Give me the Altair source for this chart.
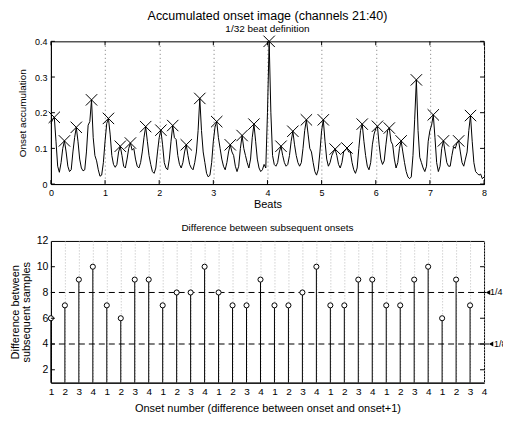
import altair as alt
import pandas as pd

# ---- top panel: accumulated onset curve (1/32 beat samples) ----
curve_vals = [
    0.170, 0.180, 0.187, 0.120, 0.050, 0.033, 0.060, 0.100, 0.121, 0.090,
    0.050, 0.035, 0.040, 0.090, 0.130, 0.159, 0.120, 0.070, 0.045, 0.037,
    0.040, 0.090, 0.165, 0.175, 0.236, 0.130, 0.080, 0.065, 0.040, 0.022,
    0.025, 0.060, 0.120, 0.170, 0.184, 0.140, 0.080, 0.055, 0.047, 0.055,
    0.090, 0.106, 0.080, 0.050, 0.045, 0.070, 0.100, 0.115, 0.095, 0.100,
    0.070, 0.050, 0.045, 0.060, 0.090, 0.130, 0.161, 0.120, 0.080, 0.055,
    0.035, 0.030, 0.045, 0.090, 0.130, 0.151, 0.110, 0.060, 0.045, 0.040,
    0.070, 0.120, 0.164, 0.130, 0.125, 0.080, 0.055, 0.045, 0.060, 0.090,
    0.110, 0.080, 0.055, 0.045, 0.040, 0.060, 0.090, 0.150, 0.240, 0.150,
    0.090, 0.060, 0.030, 0.020, 0.025, 0.060, 0.120, 0.160, 0.175, 0.130,
    0.100, 0.070, 0.050, 0.040, 0.060, 0.090, 0.110, 0.090, 0.080, 0.050,
    0.035, 0.050, 0.100, 0.136, 0.100, 0.080, 0.060, 0.045, 0.070, 0.130,
    0.168, 0.120, 0.070, 0.045, 0.035, 0.040, 0.055, 0.045, 0.200, 0.400,
    0.200, 0.080, 0.055, 0.050, 0.060, 0.090, 0.106, 0.080, 0.060, 0.050,
    0.055, 0.080, 0.120, 0.148, 0.110, 0.080, 0.060, 0.050, 0.060, 0.100,
    0.150, 0.180, 0.140, 0.100, 0.090, 0.060, 0.035, 0.025, 0.040, 0.090,
    0.150, 0.180, 0.120, 0.070, 0.050, 0.060, 0.080, 0.090, 0.098, 0.080,
    0.055, 0.045, 0.060, 0.090, 0.095, 0.101, 0.090, 0.090, 0.060, 0.040,
    0.030, 0.045, 0.100, 0.150, 0.168, 0.120, 0.080, 0.050, 0.040, 0.060,
    0.110, 0.140, 0.155, 0.162, 0.110, 0.070, 0.055, 0.065, 0.110, 0.150,
    0.157, 0.120, 0.110, 0.070, 0.045, 0.060, 0.100, 0.121, 0.090, 0.060,
    0.035, 0.020, 0.015, 0.020, 0.080, 0.180, 0.292, 0.150, 0.075, 0.060,
    0.045, 0.035, 0.050, 0.120, 0.150, 0.165, 0.194, 0.130, 0.060, 0.035,
    0.050, 0.100, 0.121, 0.090, 0.060, 0.050, 0.050, 0.080, 0.105, 0.100,
    0.115, 0.121, 0.090, 0.060, 0.050, 0.070, 0.090, 0.150, 0.192, 0.120,
    0.060, 0.035, 0.030, 0.025, 0.028, 0.015, 0.020,
]
samples_per_beat = 32

# detected onsets (sample index) and their heights
onset_samples = [2, 8, 15, 24, 34, 41, 47, 56, 65, 72, 80, 88, 98, 106, 113, 120,
                 129, 136, 143, 151, 161, 168, 175, 184, 193, 200, 207, 216, 226,
                 232, 241, 248]
onset_vals = [0.187, 0.121, 0.159, 0.236, 0.184, 0.106, 0.115, 0.161, 0.151, 0.164,
              0.110, 0.240, 0.175, 0.110, 0.136, 0.168, 0.400, 0.106, 0.148, 0.180,
              0.180, 0.098, 0.101, 0.168, 0.162, 0.157, 0.121, 0.292, 0.194, 0.121,
              0.121, 0.192]

beat_ticks = [0, 1, 2, 3, 4, 5, 6, 7, 8]
acc_ticks = [0, 0.1, 0.2, 0.3, 0.4]

# ---- bottom panel: difference between subsequent onsets ----
diff_vals = [6, 7, 9, 10, 7, 6, 9, 9, 7, 8, 8, 10, 8, 7, 7, 9,
             7, 7, 8, 10, 7, 7, 9, 9, 7, 7, 9, 10, 6, 9, 7]
onset_number = list(range(1, len(diff_vals) + 1))
onset_ticks = list(range(1, 33))
diff_ticks = [2, 4, 6, 8, 10, 12]
ref_levels = [8, 4]
ref_labels = ["1/4", "1/8"]

W = 434
H1 = 143
H2 = 142
FONT = "Liberation Sans"

curve_df = pd.DataFrame({
    "beat": [i / samples_per_beat for i in range(len(curve_vals))],
    "acc": curve_vals,
})
peak_df = pd.DataFrame({
    "beat": [s / samples_per_beat for s in onset_samples],
    "acc": onset_vals,
})
xtick_df = pd.DataFrame({"beat": beat_ticks})
ytick_df = pd.DataFrame({"acc": acc_ticks})

xs = alt.Scale(domain=[0, 8], nice=False, zero=False)
ys = alt.Scale(domain=[0, 0.4], nice=False)

common = dict(labelOverlap=False, labelFlush=False, labelBound=False, ticks=False)

top_x_axis = alt.Axis(values=beat_ticks, title="Beats", grid=True,
                      gridDash=[1, 3], gridColor="#777777", gridWidth=1,
                      labelFontSize=9, labelPadding=4, titleFontSize=11,
                      titleFontWeight="normal", titlePadding=1, **common)
top_y_axis = alt.Axis(values=acc_ticks, format="~g", title="Onset accumulation",
                      grid=False, labelFontSize=9, labelPadding=4,
                      titleFontSize=10, titleFontWeight="normal", titlePadding=7, **common)

line = alt.Chart(curve_df).mark_line(color="black", strokeWidth=1).encode(
    x=alt.X("beat:Q", scale=xs, axis=top_x_axis),
    y=alt.Y("acc:Q", scale=ys, axis=top_y_axis),
)
peaks = alt.Chart(peak_df).mark_point(
    shape="M -1 -1 L 1 1 M -1 1 L 1 -1", filled=False, color="black",
    strokeWidth=1, size=130, opacity=1,
).encode(x=alt.X("beat:Q", scale=xs, axis=top_x_axis),
         y=alt.Y("acc:Q", scale=ys, axis=top_y_axis))

tick_len = 4
yt_left = alt.Chart(ytick_df).mark_rule(color="black").encode(
    y=alt.Y("acc:Q", scale=ys, axis=top_y_axis), x=alt.value(0), x2=alt.value(tick_len))
yt_right = alt.Chart(ytick_df).mark_rule(color="black").encode(
    y=alt.Y("acc:Q", scale=ys, axis=top_y_axis), x=alt.value(W - tick_len), x2=alt.value(W))
xt_bottom = alt.Chart(xtick_df).mark_rule(color="black").encode(
    x=alt.X("beat:Q", scale=xs, axis=top_x_axis), y=alt.value(H1), y2=alt.value(H1 - tick_len))
xt_top = alt.Chart(xtick_df).mark_rule(color="black").encode(
    x=alt.X("beat:Q", scale=xs, axis=top_x_axis), y=alt.value(0), y2=alt.value(tick_len))

top = alt.layer(line, peaks, yt_left, yt_right, xt_bottom, xt_top).properties(
    width=W, height=H1,
    title=alt.TitleParams(
        text="Accumulated onset image (channels 21:40)",
        subtitle="1/32 beat definition",
        fontSize=12.5, fontWeight="normal", font=FONT, color="black",
        subtitleFontSize=10, subtitleFont=FONT, subtitleColor="black",
        subtitlePadding=1, offset=0, anchor="middle",
    ),
)

diff_df = pd.DataFrame({"n": onset_number, "diff": diff_vals})
ref_df = pd.DataFrame({"level": ref_levels, "label": ref_labels})
ydt_df = pd.DataFrame({"diff": diff_ticks[:-1]})

bxs = alt.Scale(domain=[1, 32], nice=False, zero=False)
bys = alt.Scale(domain=[1, 12], nice=False, zero=False)

bot_x_axis = alt.Axis(values=onset_ticks, labelExpr="((datum.value - 1) % 4) + 1",
                      title="Onset number (difference between onset and onset+1)",
                      grid=True, gridDash=[1, 2], gridColor="#bbbbbb",
                      gridWidth=1, labelFontSize=10, labelPadding=4,
                      titleFontSize=11, titleFontWeight="normal", titlePadding=6, **common)
bot_y_axis = alt.Axis(values=diff_ticks, title=["Difference between", "subsequent samples"],
                      grid=False, labelFontSize=10.5, labelPadding=3,
                      titleFontSize=11, titleFontWeight="normal", titlePadding=5,
                      titleLineHeight=11, **common)

stems = alt.Chart(diff_df).mark_rule(color="black", strokeWidth=1).encode(
    x=alt.X("n:Q", scale=bxs, axis=bot_x_axis),
    y=alt.Y("diff:Q", scale=bys, axis=bot_y_axis),
    y2=alt.datum(1),
)
refs = alt.Chart(ref_df).mark_rule(color="black", strokeDash=[6, 4], strokeWidth=1).encode(
    y=alt.Y("level:Q", scale=bys, axis=bot_y_axis))
circles = alt.Chart(diff_df).mark_point(
    shape="circle", filled=False, fill="white", fillOpacity=1, color="black",
    strokeWidth=1, size=26, opacity=1,
).encode(x=alt.X("n:Q", scale=bxs, axis=bot_x_axis),
         y=alt.Y("diff:Q", scale=bys, axis=bot_y_axis))
ydt_left = alt.Chart(ydt_df).mark_rule(color="black").encode(
    y=alt.Y("diff:Q", scale=bys, axis=bot_y_axis), x=alt.value(0), x2=alt.value(tick_len))
ydt_right = alt.Chart(ydt_df).mark_rule(color="black").encode(
    y=alt.Y("diff:Q", scale=bys, axis=bot_y_axis), x=alt.value(W - tick_len), x2=alt.value(W))

# arrow annotations to the right of the lower panel
ann_layers = []
for lab, stub, arrow_x, text_x in zip(ref_labels, [2, 5], [4, 7], [6, 10]):
    sub = alt.Chart(ref_df).transform_filter(alt.datum.label == lab)
    ann_layers.append(sub.mark_rule(color="black").encode(
        y=alt.Y("level:Q", scale=bys, axis=bot_y_axis), x=alt.value(W), x2=alt.value(W + stub)))
    ann_layers.append(sub.mark_point(shape="triangle-left", filled=True, color="black",
                                     size=26, opacity=1).encode(
        y=alt.Y("level:Q", scale=bys, axis=bot_y_axis), x=alt.value(W + arrow_x)))
    ann_layers.append(sub.mark_text(align="left", baseline="middle", fontSize=9,
                                    font=FONT, color="black").encode(
        y=alt.Y("level:Q", scale=bys, axis=bot_y_axis), x=alt.value(W + text_x),
        text="label:N"))

bottom = alt.layer(stems, refs, circles, ydt_left, ydt_right, *ann_layers).properties(
    width=W, height=H2,
    title=alt.TitleParams(
        text="Difference between subsequent onsets", fontSize=10,
        fontWeight="normal", font=FONT, color="black", offset=3, anchor="middle",
    ),
)

chart = alt.vconcat(top, bottom, spacing=12).properties(
    padding={"left": 0, "top": 1, "right": -5, "bottom": -1},
).configure(font=FONT).configure_view(
    stroke="black", strokeWidth=1,
).configure_axis(
    labelFont=FONT, titleFont=FONT, labelColor="black", titleColor="black",
    domainColor="black", domainWidth=1, labelOverlap=False, labelFlush=False,
    labelBound=False,
)

chart.save("out.html", embed_options={"renderer": "svg", "actions": False})
